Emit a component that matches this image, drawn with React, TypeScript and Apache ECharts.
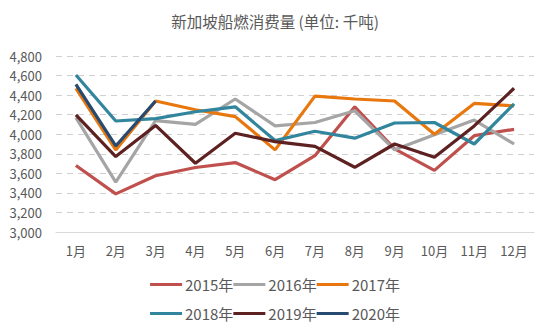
import React, { useEffect, useRef } from "react";
import * as echarts from "echarts";

const title = "新加坡船燃消费量 (单位: 千吨)";
const months = ["1月", "2月", "3月", "4月", "5月", "6月", "7月", "8月", "9月", "10月", "11月", "12月"];
const seriesNames = ["2015年", "2016年", "2017年", "2018年", "2019年", "2020年"];
const y2015 = [3680, 3390, 3575, 3660, 3710, 3535, 3780, 4280, 3850, 3630, 3985, 4050];
const y2016 = [4170, 3510, 4140, 4100, 4360, 4085, 4120, 4240, 3840, 3995, 4145, 3900];
const y2017 = [4470, 3840, 4340, 4250, 4180, 3840, 4390, 4360, 4340, 4000, 4315, 4290];
const y2018 = [4605, 4135, 4160, 4230, 4280, 3935, 4030, 3960, 4115, 4120, 3900, 4310];
const y2019 = [4197, 3771, 4090, 3703, 4010, 3924, 3875, 3662, 3900, 3765, 4085, 4470];
const y2020 = [4510, 3880, 4340];
const colors = ["#C0504D", "#A5A5A5", "#E8770E", "#31859C", "#5E2121", "#274A70"];

export default function App() {
  const ref = useRef<HTMLDivElement>(null);
  useEffect(() => {
    if (!ref.current) return;
    const chart = echarts.init(ref.current, null, { renderer: "svg" });
    const font = "'Noto Sans CJK SC', 'Noto Sans', sans-serif";
    const data = [y2015, y2016, y2017, y2018, y2019, y2020];
    const legendCommon = {
      left: "center",
      itemWidth: 32,
      itemHeight: 3,
      itemGap: 0,
      icon: "rect",
      textStyle: { fontSize: 15, color: "#595959", fontFamily: font, padding: [0, 0, 0, -2] },
    };
    chart.setOption({
      animation: false,
      color: colors,
      title: {
        text: title,
        left: "center",
        top: 8,
        textStyle: { fontSize: 15.5, fontWeight: "normal", color: "#595959", fontFamily: font },
      },
      legend: [
        { ...legendCommon, top: 272, data: seriesNames.slice(0, 3) },
        { ...legendCommon, top: 301, data: seriesNames.slice(3) },
      ],
      grid: { left: 56, right: 16, top: 56, bottom: 98 },
      xAxis: {
        type: "category",
        data: months,
        boundaryGap: true,
        axisLine: { lineStyle: { color: "#D9D9D9" } },
        axisTick: { show: false },
        axisLabel: { color: "#595959", fontSize: 13, fontFamily: font, margin: 12 },
      },
      yAxis: {
        type: "value",
        min: 3000,
        max: 4800,
        interval: 200,
        axisLine: { show: false },
        axisTick: { show: false },
        axisLabel: {
          color: "#595959",
          fontSize: 13,
          fontFamily: font,
          margin: 14,
          formatter: (v: number) => v.toLocaleString("en-US"),
        },
        splitLine: { lineStyle: { color: "#D0D0D0", type: [6, 5] } },
      },
      series: seriesNames.map((name, i) => ({
        name,
        type: "line",
        data: data[i],
        showSymbol: false,
        symbol: "none",
        lineStyle: { width: 3.2, color: colors[i] },
        itemStyle: { color: colors[i] },
      })),
    });
    return () => chart.dispose();
  }, []);
  return <div ref={ref} style={{ width: 550, height: 330, position: "absolute", left: 0, top: 0 }} />;
}
